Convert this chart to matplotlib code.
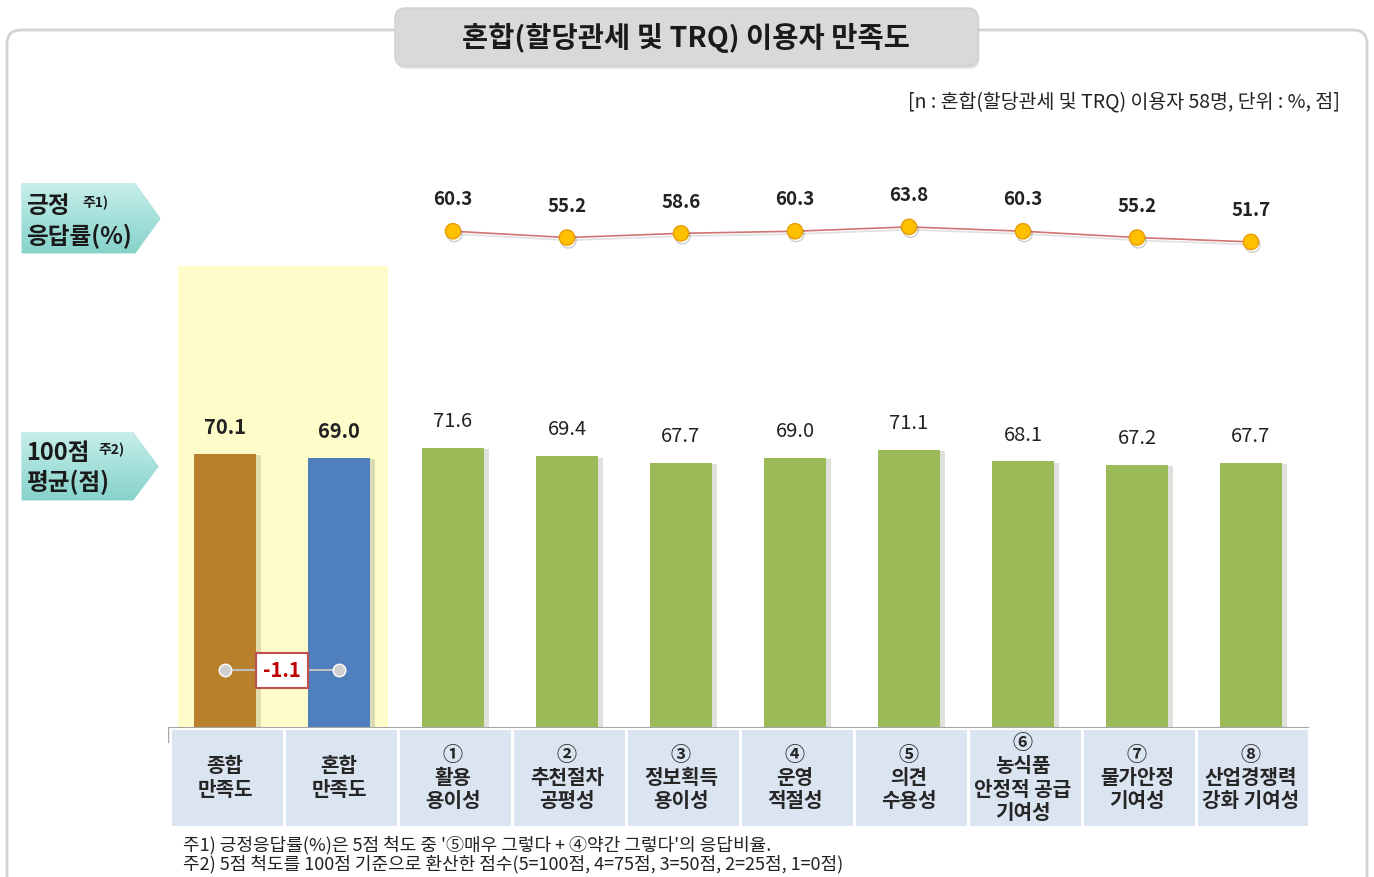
import numpy as np
import matplotlib.pyplot as plt
import matplotlib.patheffects as pe
from matplotlib.patches import Polygon, FancyBboxPatch, Rectangle
from matplotlib.colors import LinearSegmentedColormap

plt.rcParams['font.family'] = ['Noto Sans CJK KR', 'DejaVu Sans']

# data
title = '혼합(할당관세 및 TRQ) 이용자 만족도'
subtitle = '[n : 혼합(할당관세 및 TRQ) 이용자 58명, 단위 : %, 점]'
categories = ['종합\n만족도', '혼합\n만족도', '①\n활용\n용이성', '②\n추천절차\n공평성',
              '③\n정보획득\n용이성', '④\n운영\n적절성', '⑤\n의견\n수용성',
              '⑥\n농식품\n안정적 공급\n기여성', '⑦\n물가안정\n기여성', '⑧\n산업경쟁력\n강화 기여성']
scores = [70.1, 69.0, 71.6, 69.4, 67.7, 69.0, 71.1, 68.1, 67.2, 67.7]
positive = [60.3, 55.2, 58.6, 60.3, 63.8, 60.3, 55.2, 51.7]   # items 1-8
notes = ["주1) 긍정응답률(%)은 5점 척도 중 '⑤매우 그렇다 + ④약간 그렇다'의 응답비율.",
         '주2) 5점 척도를 100점 기준으로 환산한 점수(5=100점, 4=75점, 3=50점, 2=25점, 1=0점)']
bar_colors = ['#b8802b', '#4f7fbd'] + ['#9bbb59'] * 8

W, H = 1374, 877
fig = plt.figure(figsize=(W / 100, H / 100), dpi=100)

# decoration layer in pixel coords
deco = fig.add_axes([0, 0, 1, 1], zorder=0)
deco.set_xlim(0, W)
deco.set_ylim(H, 0)
deco.axis('off')

deco.add_patch(FancyBboxPatch((7, 30), 1360, 900, boxstyle='round,pad=0,rounding_size=14',
                              fc='white', ec='#d3d3d3', lw=2))
deco.add_patch(FancyBboxPatch((395, 8), 583, 58, boxstyle='round,pad=0,rounding_size=10',
                              fc='#d9d9d9', ec='#d0d0d0', lw=1,
                              path_effects=[pe.SimplePatchShadow(offset=(1, -2), alpha=0.15), pe.Normal()]))
deco.text(686, 38, title, ha='center', va='center', fontsize=20.5, fontweight='bold', color='#1a1a1a')
deco.text(1340, 102, subtitle, ha='right', va='center', fontsize=14, color='#222222')

teal = LinearSegmentedColormap.from_list('teal', ['#c6eeea', '#86d3cb'])
grad = np.linspace(0, 1, 64).reshape(-1, 1)
for (x0, y0, x1, y1) in [(22, 184, 160, 253), (22, 433, 158, 500)]:
    ym = (y0 + y1) / 2
    poly = Polygon([(x0, y0), (x1 - 25, y0), (x1, ym), (x1 - 25, y1), (x0, y1)],
                   closed=True, fc='none', ec='#9fd8d2', lw=0.8)
    deco.add_patch(poly)
    im = deco.imshow(grad, extent=(x0, x1, y1, y0), cmap=teal, aspect='auto', zorder=1)
    im.set_clip_path(poly)
deco.set_xlim(0, W)
deco.set_ylim(H, 0)

lab = dict(fontweight='bold', color='#1a1a1a', va='center', ha='left')
deco.text(26, 206, '긍정', fontsize=17, **lab)
deco.text(82, 203, '주1)', fontsize=10, **lab)
deco.text(26, 236, '응답률(%)', fontsize=17, **lab)
deco.text(26, 453, '100점', fontsize=17, **lab)
deco.text(98, 450, '주2)', fontsize=10, **lab)
deco.text(26, 482, '평균(점)', fontsize=17, **lab)

for k, note in enumerate(notes):
    deco.text(183, 845 + 19 * k, note, ha='left', va='center', fontsize=13, color='#222222')

# bars
x = np.arange(len(categories))
ax = fig.add_axes([168 / W, 150 / H, 1140 / W, 461 / H], zorder=2)
ax.patch.set_alpha(0)
ax.set_xlim(-0.5, len(categories) - 0.5)
ax.set_ylim(0, 461 / 3.9)
ax.axvspan(-0.41, 1.43, color='#fefcc9', zorder=0, lw=0)
bars = ax.bar(x, scores, width=0.55, color=bar_colors, zorder=2)
for b in bars:
    b.set_path_effects([pe.SimplePatchShadow(offset=(3, -1), alpha=0.15), pe.Normal()])
for i, v in enumerate(scores):
    ax.annotate(f'{v:.1f}', (i, v), xytext=(0, 19), textcoords='offset points',
                ha='center', va='center', fontsize=14.5, color='#222222',
                fontweight='bold' if i < 2 else 'normal')
for s in ['top', 'right', 'left']:
    ax.spines[s].set_visible(False)
ax.spines['bottom'].set_color('#a6a6a6')
ax.set_xticks([])
ax.set_yticks([])

# gap between overall and mixed
diff = round(scores[1] - scores[0], 1)
ax.plot([0, 1], [14.6, 14.6], color='#bfbfbf', lw=1.5, marker='o', ms=9,
        mfc='#cfcfcf', mec='white', mew=1, zorder=3)
ax.text(0.5, 14.6, f'{diff:.1f}', ha='center', va='center', fontsize=14.5, fontweight='bold',
        color='#c00000', zorder=4,
        bbox=dict(boxstyle='square,pad=0.35', fc='white', ec='#c0504d', lw=1.5))

# positive response line
ax2 = fig.add_axes([168 / W, 611 / H, 1140 / W, 96 / H], sharex=ax, zorder=3)
ax2.patch.set_alpha(0)
ax2.set_ylim((306 - 266) / 1.24, (306 - 170) / 1.24)
ax2.axis('off')
xi = x[2:]
ax2.plot(xi, positive, color='#d07373', lw=1.2, zorder=2,
         path_effects=[pe.SimpleLineShadow(offset=(1, -2), alpha=0.12), pe.Normal()])
ax2.plot(xi, positive, ls='none', marker='o', ms=11, mfc='#ffc000', mec='#e89c00', mew=1, zorder=3,
         path_effects=[pe.SimpleLineShadow(offset=(1, -2), alpha=0.2), pe.Normal()])
for xx, v in zip(xi, positive):
    ax2.annotate(f'{v:.1f}', (xx, v), xytext=(0, 22.5), textcoords='offset points',
                 ha='center', va='center', fontsize=13.5, fontweight='bold', color='#222222')

# category label band
ax3 = fig.add_axes([168 / W, 49 / H, 1140 / W, 101 / H], sharex=ax, zorder=2)
ax3.patch.set_alpha(0)
ax3.set_ylim(0, 1)
ax3.axis('off')
ax3.plot([-0.5, -0.5], [1, 0.85], color='#a6a6a6', lw=1)
for i, c in enumerate(categories):
    ax3.add_patch(Rectangle((i - 0.5 + 0.035, 0.02), 0.97, 0.95, fc='#dbe5f1', ec='none'))
    ax3.text(i, 0.5, c, ha='center', va='center', fontsize=14.5, fontweight='bold',
             color='#262626', linespacing=1.12)

fig.savefig('out.png', dpi=100)
